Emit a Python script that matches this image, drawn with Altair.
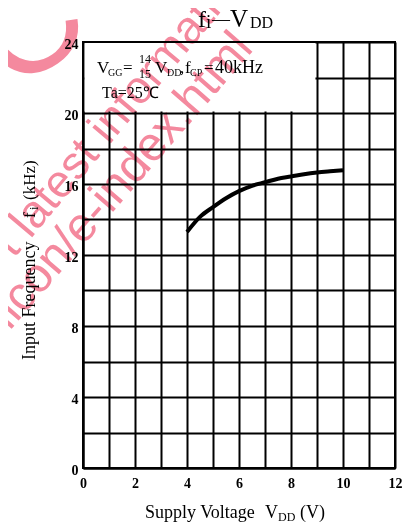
import altair as alt
import pandas as pd

# ---- data ----
vdd = [4, 4.5, 5, 5.5, 6, 6.5, 7, 7.5, 8, 8.5, 9, 9.5, 10]
fi = [13.3, 14.15, 14.7, 15.2, 15.6, 15.9, 16.1, 16.3, 16.42, 16.55, 16.65, 16.72, 16.78]
x_ticks = list(range(0, 13))
y_ticks = list(range(0, 25, 2))
box_x = [0.06, 8.94]
box_y = [20.09, 23.94]

SERIF = "Liberation Serif"
SANS = "Liberation Sans"
PINK = "#f4899e"

xs = alt.Scale(domain=[0, 12], nice=False, zero=False)
ys = alt.Scale(domain=[0, 24], nice=False, zero=False)

curve = pd.DataFrame({"vdd": vdd, "fi": fi})
box = pd.DataFrame({"x": [box_x[0]], "x2": [box_x[1]], "y": [box_y[0]], "y2": [box_y[1]]})

x_axis = alt.Axis(values=x_ticks, labelExpr="datum.value % 2 == 0 ? datum.label : ''",
                  title=None, ticks=False, labelPadding=8, grid=True, labelFlush=False)
y_axis = alt.Axis(values=y_ticks, labelExpr="datum.value % 4 == 0 ? datum.label : ''",
                  title=None, ticks=False, labelPadding=5, grid=True, labelFlush=False,
                  labelOffset=2)

box_layer = alt.Chart(box).mark_rect(color="white").encode(
    x=alt.X("x:Q", scale=xs, axis=x_axis), x2="x2:Q",
    y=alt.Y("y:Q", scale=ys, axis=y_axis), y2="y2:Q")

line_layer = alt.Chart(curve).mark_line(color="black", strokeWidth=4, interpolate="monotone").encode(
    x=alt.X("vdd:Q", scale=xs, axis=x_axis),
    y=alt.Y("fi:Q", scale=ys, axis=y_axis))


def txt(s, x, y, size, font=SERIF, weight="normal", angle=0, color="black", align="left",
        baseline="alphabetic", blend=None):
    kw = dict(align=align, baseline=baseline, font=font, fontSize=size, fontWeight=weight,
              angle=angle, color=color)
    if blend:
        kw["blend"] = blend
    return alt.Chart(pd.DataFrame({"t": [s]})).mark_text(**kw).encode(
        x=alt.value(x), y=alt.value(y), text="t:N")


texts = [
    # title  f_i - V_DD
    txt("f", 115, -15, 24),
    txt("i", 123, -14, 19),
    txt("\u2014", 129, -17, 18),
    txt("V", 147, -15, 25),
    txt("DD", 167, -14, 16),
    # annotation
    txt("V", 14, 31, 17),
    txt("GG", 25, 34, 10),
    txt("=", 40, 31, 17),
    txt("14", 62, 21, 12, align="center"),
    txt("15", 62, 36, 12, align="center"),
    txt("V", 72, 31, 17),
    txt("DD", 84, 34, 10),
    txt(",", 97, 31, 17),
    txt("f", 102, 31, 17),
    txt("CP", 107, 34, 10),
    txt("=", 121, 31, 17),
    txt("40kHz", 132, 31, 18),
    txt("Ta=25\u2103", 19, 56, 16),
    # x title
    txt("Supply Voltage", 62, 476, 18),
    txt("V", 182, 476, 18),
    txt("DD", 195, 479, 12),
    txt("(V)", 217, 476, 18),
    # y title (rotated)
    txt("Input Frequency", -48, 318, 18, angle=270),
    txt("f", -48, 176, 17, angle=270),
    txt("i", -45, 168, 12, angle=270),
    txt("(kHz)", -48, 158, 17, angle=270),
    # watermark
    txt("t latest information", -80, 208, 46, font=SANS, angle=310, color=PINK,
        baseline="middle", blend="multiply"),
    txt("ilicon/e-index.html", -91, 288, 48, font=SANS, angle=311, color=PINK,
        baseline="middle", blend="multiply"),
    txt("C", -53, -12, 140, font=SANS, angle=325, color=PINK, align="center",
        baseline="middle", blend="multiply"),
]

chart = alt.layer(box_layer, line_layer, *texts).properties(
    width=312, height=426,
    autosize=alt.AutoSizeParams(type="none"),
    padding={"left": 75, "top": 34, "right": 9, "bottom": 55},
).configure_view(stroke="black", strokeWidth=2).configure_axis(
    gridColor="black", gridWidth=2, gridOpacity=1,
    domainColor="black", domainWidth=2,
    labelFont=SERIF, labelFontSize=14, labelFontWeight="bold", labelColor="black",
)

chart.save("out.html", embed_options={"renderer": "svg", "actions": False})
